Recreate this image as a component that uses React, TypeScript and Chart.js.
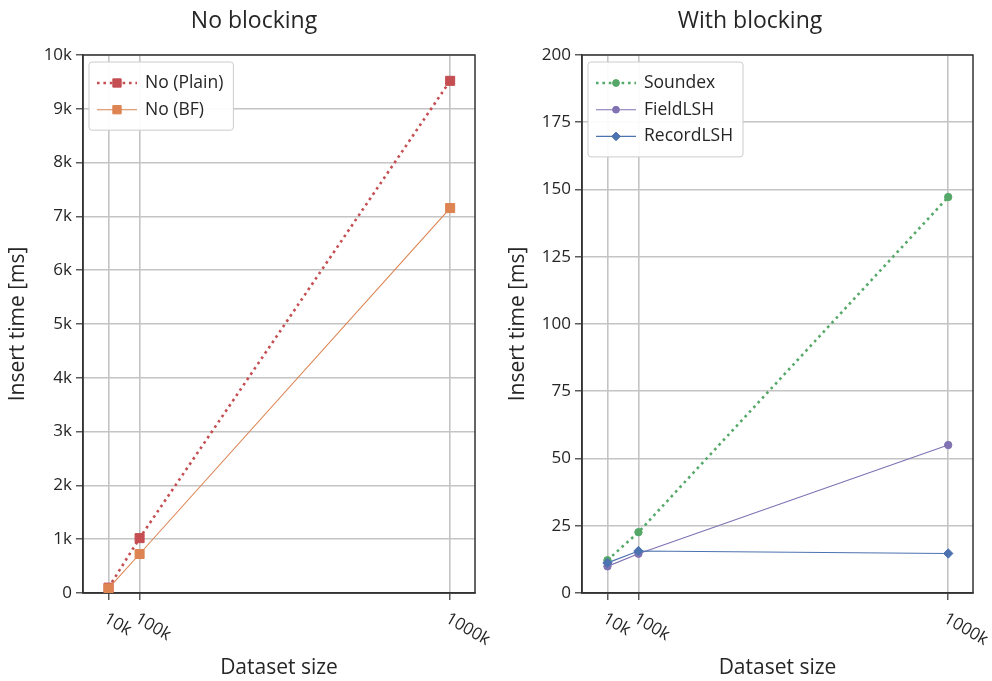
import React, { useEffect, useRef } from 'react';
import { Chart, registerables } from 'chart.js';

Chart.register(...registerables);

const FONT_FAMILY = '"Open Sans", "DejaVu Sans", sans-serif';
const TEXT_COLOR = '#262626';
const GRID_COLOR = '#c4c4c4';
const AXIS_COLOR = '#333333';

// Dataset sizes (thousands of records) and their axis labels
const datasetSizes = [10, 100, 1000];
const datasetSizeLabels = ['10k', '100k', '1000k'];

// Insert time [ms] without blocking
const noPlainTimes = [100, 1020, 9520];
const noBfTimes = [85, 725, 7155];

// Insert time [ms] with blocking
const soundexTimes = [12.2, 22.6, 147.2];
const fieldLshTimes = [9.9, 14.6, 55.0];
const recordLshTimes = [11.2, 15.6, 14.7];

// Y tick labels of both panels
const noBlockingTickLabels = ['0', '1k', '2k', '3k', '4k', '5k', '6k', '7k', '8k', '9k', '10k'];
const withBlockingTickLabels = ['0', '25', '50', '75', '100', '125', '150', '175', '200'];

type Marker = 'rect' | 'circle' | 'rectRot';

type SeriesStyle = {
  color: string;
  width: number;
  dash: number[];
  marker: Marker;
  radius: number;
  order: number;
};

type SeriesDef = { label: string; values: number[]; style: SeriesStyle };

const noBlockingSeries: SeriesDef[] = [
  { label: 'No (Plain)', values: noPlainTimes, style: { color: '#c44e52', width: 2.6, dash: [2.6, 3.8], marker: 'rect', radius: 6.4, order: 1 } },
  { label: 'No (BF)', values: noBfTimes, style: { color: '#dd8452', width: 1.1, dash: [], marker: 'rect', radius: 6.4, order: 0 } },
];

const withBlockingSeries: SeriesDef[] = [
  { label: 'Soundex', values: soundexTimes, style: { color: '#55a868', width: 2.6, dash: [2.6, 3.8], marker: 'circle', radius: 3.7, order: 2 } },
  { label: 'FieldLSH', values: fieldLshTimes, style: { color: '#8172b3', width: 1.1, dash: [], marker: 'circle', radius: 3.7, order: 1 } },
  { label: 'RecordLSH', values: recordLshTimes, style: { color: '#4c72b0', width: 1.1, dash: [], marker: 'rectRot', radius: 4.7, order: 0 } },
];

function drawMarker(ctx: CanvasRenderingContext2D, marker: Marker, x: number, y: number, r: number, color: string) {
  ctx.beginPath();
  if (marker === 'circle') {
    ctx.arc(x, y, r, 0, Math.PI * 2);
  } else if (marker === 'rect') {
    const s = r * Math.SQRT1_2;
    ctx.rect(x - s, y - s, 2 * s, 2 * s);
  } else {
    ctx.moveTo(x, y - r);
    ctx.lineTo(x + r, y);
    ctx.lineTo(x, y + r);
    ctx.lineTo(x - r, y);
    ctx.closePath();
  }
  ctx.fillStyle = color;
  ctx.strokeStyle = color;
  ctx.lineWidth = 1;
  ctx.fill();
  ctx.stroke();
}

type PanelProps = {
  title: string;
  series: SeriesDef[];
  yMax: number;
  yStep: number;
  yTickLabels: string[];
  yAxisWidth: number;
  yTitlePad: number;
  padRight: number;
  left: number;
};

const CANVAS_W = 496;
const CANVAS_H = 681;

function Panel(props: PanelProps) {
  const ref = useRef<HTMLCanvasElement | null>(null);

  useEffect(() => {
    const canvas = ref.current;
    if (!canvas) return;
    const { title, series, yMax, yStep, yTickLabels, yAxisWidth, yTitlePad, padRight } = props;

    const decor = {
      id: 'panelDecor',
      beforeDatasetsDraw(chart: any) {
        const { ctx, chartArea: a } = chart;
        ctx.save();
        ctx.strokeStyle = AXIS_COLOR;
        ctx.lineWidth = 1.5;
        ctx.strokeRect(a.left, a.top, a.right - a.left, a.bottom - a.top);
        ctx.restore();
      },
      afterDraw(chart: any) {
        const { ctx, chartArea: a } = chart;
        ctx.save();

        // panel title
        ctx.fillStyle = TEXT_COLOR;
        ctx.font = `23px ${FONT_FAMILY}`;
        ctx.textAlign = 'center';
        ctx.textBaseline = 'alphabetic';
        ctx.fillText(title, chart.width / 2 + 6, 28);

        // rotated dataset size labels
        const xScale = chart.scales.x;
        ctx.font = `17px ${FONT_FAMILY}`;
        ctx.textAlign = 'left';
        ctx.textBaseline = 'top';
        datasetSizes.forEach((v, i) => {
          const px = xScale.getPixelForValue(v);
          ctx.save();
          ctx.translate(px + 1, a.bottom + 17);
          ctx.rotate(Math.PI / 6);
          ctx.fillText(datasetSizeLabels[i], 0, 0);
          ctx.restore();
        });

        // legend
        ctx.font = `17.5px ${FONT_FAMILY}`;
        const textW = Math.max(...series.map((s) => ctx.measureText(s.label).width));
        const bx = a.left + 6;
        const by = a.top + 7;
        const bw = textW + 66;
        const rowGap = 26.7;
        const bh = 21 + (series.length - 1) * rowGap + 20.5;
        ctx.beginPath();
        if ((ctx as any).roundRect) (ctx as any).roundRect(bx, by, bw, bh, 3);
        else ctx.rect(bx, by, bw, bh);
        ctx.fillStyle = 'rgba(255,255,255,0.92)';
        ctx.fill();
        ctx.strokeStyle = '#cccccc';
        ctx.lineWidth = 1;
        ctx.stroke();

        series.forEach((s, i) => {
          const y = by + 21 + i * rowGap;
          const x0 = bx + 8;
          const x1 = x0 + 40;
          ctx.beginPath();
          ctx.setLineDash(s.style.dash);
          ctx.strokeStyle = s.style.color;
          ctx.lineWidth = s.style.width;
          ctx.moveTo(x0, y);
          ctx.lineTo(x1, y);
          ctx.stroke();
          ctx.setLineDash([]);
          drawMarker(ctx, s.style.marker, (x0 + x1) / 2, y, s.style.radius * 0.92, s.style.color);
          ctx.fillStyle = TEXT_COLOR;
          ctx.textAlign = 'left';
          ctx.textBaseline = 'middle';
          ctx.fillText(s.label, bx + 56, y);
        });

        ctx.restore();
      },
    };

    const chart = new Chart(canvas, {
      type: 'line',
      data: {
        datasets: series.map((s) => ({
          label: s.label,
          data: datasetSizes.map((x, i) => ({ x, y: s.values[i] })),
          borderColor: s.style.color,
          backgroundColor: s.style.color,
          borderWidth: s.style.width,
          borderDash: s.style.dash,
          pointStyle: s.style.marker,
          pointRadius: s.style.radius,
          pointBorderWidth: 1,
          pointBackgroundColor: s.style.color,
          pointBorderColor: s.style.color,
          order: s.style.order,
          tension: 0,
          fill: false,
        })),
      },
      options: {
        responsive: false,
        animation: false,
        devicePixelRatio: 1,
        events: [],
        layout: { padding: { top: 55, right: padRight, bottom: 0, left: 0 } },
        plugins: {
          legend: { display: false },
          tooltip: { enabled: false },
          title: { display: false },
        },
        scales: {
          x: {
            type: 'linear',
            min: -64,
            max: 1072,
            afterBuildTicks: (scale: any) => {
              scale.ticks = datasetSizes.map((v) => ({ value: v }));
            },
            afterFit: (scale: any) => {
              scale.height = 88;
            },
            ticks: { display: false },
            grid: { color: GRID_COLOR, lineWidth: 1.6, tickLength: 7, tickColor: AXIS_COLOR, tickWidth: 1.2 },
            border: { display: true, color: AXIS_COLOR, width: 1.5 },
            title: {
              display: true,
              text: 'Dataset size',
              color: TEXT_COLOR,
              font: { family: FONT_FAMILY, size: 21 },
              padding: { top: 0, bottom: 0 },
            },
          },
          y: {
            min: 0,
            max: yMax,
            afterFit: (scale: any) => {
              scale.width = yAxisWidth;
            },
            ticks: {
              stepSize: yStep,
              callback: (_v: any, i: number) => yTickLabels[i],
              color: TEXT_COLOR,
              font: { family: FONT_FAMILY, size: 17 },
              padding: 4,
            },
            grid: { color: GRID_COLOR, lineWidth: 1.6, tickLength: 7, tickColor: AXIS_COLOR, tickWidth: 1.2 },
            border: { display: true, color: AXIS_COLOR, width: 1.5 },
            title: {
              display: true,
              text: 'Insert time [ms]',
              color: TEXT_COLOR,
              font: { family: FONT_FAMILY, size: 21 },
              padding: { top: yTitlePad, bottom: 0 },
            },
          },
        },
      } as any,
      plugins: [decor],
    });

    return () => chart.destroy();
  }, []);

  return (
    <canvas
      ref={ref}
      width={CANVAS_W}
      height={CANVAS_H}
      style={{ position: 'absolute', left: props.left, top: 0, width: CANVAS_W, height: CANVAS_H }}
    />
  );
}

export default function App() {
  return (
    <div style={{ position: 'fixed', left: 0, top: 0, width: 992, height: 681, background: '#ffffff' }}>
      <Panel
        title="No blocking"
        series={noBlockingSeries}
        yMax={10000}
        yStep={1000}
        yTickLabels={noBlockingTickLabels}
        yAxisWidth={83}
        yTitlePad={5.5}
        padRight={21}
        left={0}
      />
      <Panel
        title="With blocking"
        series={withBlockingSeries}
        yMax={200}
        yStep={25}
        yTickLabels={withBlockingTickLabels}
        yAxisWidth={86}
        yTitlePad={9.5}
        padRight={19}
        left={496}
      />
    </div>
  );
}
